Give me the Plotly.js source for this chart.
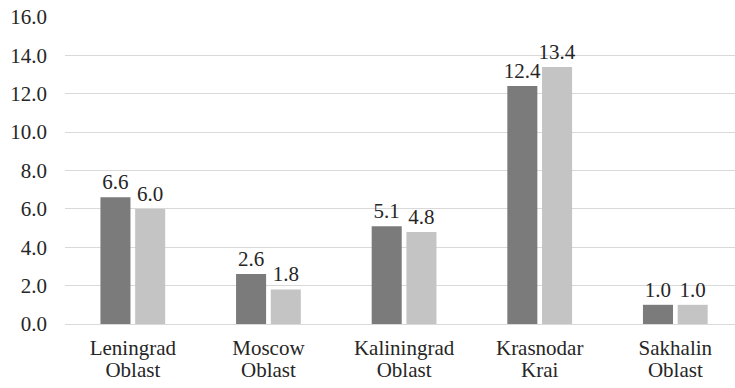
<!DOCTYPE html>
<html>
<head>
<meta charset="utf-8">
<script src="https://cdn.plot.ly/plotly-3.0.1.min.js"></script>
<style>html,body{margin:0;padding:0;background:#fff;}#chart{width:735px;height:388px;}</style>
</head>
<body>
<div id="chart"></div>
<script>
const catLine1 = ["Leningrad", "Moscow", "Kaliningrad", "Krasnodar", "Sakhalin"];
const catLine2 = ["Oblast", "Oblast", "Oblast", "Krai", "Oblast"];
const categories = catLine1.map((a, i) => a + " " + catLine2[i]);
const series1 = [6.6, 2.6, 5.1, 12.4, 1.0];
const series2 = [6.0, 1.8, 4.8, 13.4, 1.0];
const yTicks = [0, 2, 4, 6, 8, 10, 12, 14, 16];

const FAM = "\"Liberation Serif\", serif";
function mkFont() { return {family: FAM, size: 21, color: "#262626"}; }

function barTrace(vals, color) {
  return {
    type: "bar",
    x: categories,
    y: vals,
    marker: {color: color},
    text: vals.map(v => v.toFixed(1)),
    textposition: "outside",
    constraintext: "none",
    cliponaxis: false,
    textfont: mkFont(),
    hoverinfo: "none"
  };
}

const idx = catLine1.map((_, i) => i);
const xRange = [-0.5, 4.44];

function buildData() {
  return [
    barTrace(series1, "#7b7b7b"),
    barTrace(series2, "#c4c4c4"),
    {type: "scatter", x: idx, y: series1, xaxis: "x2", yaxis: "y", mode: "markers",
     marker: {opacity: 0, size: 1}, hoverinfo: "none", showlegend: false}
  ];
}

function buildLayout() {
  return {
    width: 735, height: 388,
    margin: {l: 65, r: 0, t: 17, b: 64},
    paper_bgcolor: "#fff", plot_bgcolor: "#fff",
    barmode: "group",
    bargap: 0.488,
    bargroupgap: 0.135,
    showlegend: false,
    font: mkFont(),
    xaxis: {
      range: xRange,
      tickvals: categories,
      ticktext: catLine1,
      tickfont: mkFont(),
      showgrid: false,
      showline: false,
      zeroline: false,
      ticks: "",
      ticklabelstandoff: 9,
      automargin: false
    },
    xaxis2: {
      overlaying: "x",
      anchor: "y",
      side: "bottom",
      range: xRange,
      tickvals: idx,
      ticktext: catLine2,
      tickfont: mkFont(),
      showgrid: false,
      showline: false,
      zeroline: false,
      ticks: "",
      ticklabelstandoff: 31,
      automargin: false
    },
    yaxis: {
      range: [0, 16],
      tickvals: yTicks,
      ticktext: yTicks.map(v => v.toFixed(1)),
      tickfont: mkFont(),
      gridcolor: "#d9d9d9",
      gridwidth: 1,
      zeroline: true,
      zerolinecolor: "#d9d9d9",
      zerolinewidth: 1,
      showline: false,
      ticks: "",
      ticklabelstandoff: 17,
      automargin: false
    }
  };
}

function draw() {
  Plotly.newPlot("chart", buildData(), buildLayout(), {staticPlot: true, displayModeBar: false});
}
draw();
if (document.fonts && document.fonts.load) {
  document.fonts.load('21px "Liberation Serif"', "Leningrad 0123456789.").then(draw).catch(function () {});
}
</script>
</body>
</html>
